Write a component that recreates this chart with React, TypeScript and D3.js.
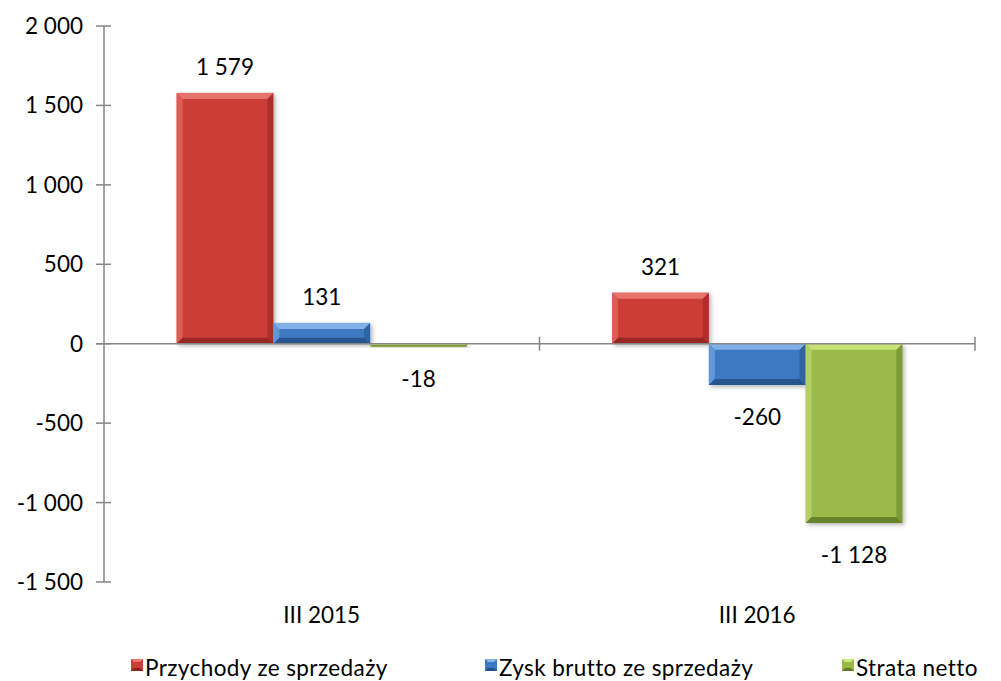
import React, { useEffect, useRef } from 'react';
import * as d3 from 'd3';

const categories = ['III 2015', 'III 2016'];
const seriesNames = ['Przychody ze sprzedaży', 'Zysk brutto ze sprzedaży', 'Strata netto'];
const przychody = [1579, 321];
const zysk = [131, -260];
const strata = [-18, -1128];
const yTicks = [-1500, -1000, -500, 0, 500, 1000, 1500, 2000];

const colors = ['#cc3d39', '#3c78c2', '#98bb48'];
const lights = ['#ea7a72', '#86b6ec', '#cfe67f'];
const darks = ['#8e2220', '#234f86', '#5f7a25'];

const fmt = (v: number) => {
  const s = Math.abs(v).toString().replace(/\B(?=(\d{3})+(?!\d))/g, '\u00a0');
  return (v < 0 ? '-' : '') + s;
};

const App = () => {
  const svgRef = useRef<SVGSVGElement>(null);

  useEffect(() => {
    const svg = d3.select(svgRef.current);
    svg.selectAll('*').remove();
    const font = 'Lato, Calibri, sans-serif';
    const fs = 22.5;

    const left = 104;
    const right = 975;
    const y = d3.scaleLinear().domain([-1500, 2000]).range([582, 26]);
    const x0 = d3.scaleBand().domain(categories).range([left, right]).paddingInner(0).paddingOuter(0);
    const x1 = d3
      .scaleBand()
      .domain(seriesNames)
      .range([0, x0.bandwidth()])
      .paddingInner(0)
      .paddingOuter(0.75);

    const defs = svg.append('defs');
    const f = defs.append('filter').attr('id', 'sh').attr('x', '-20%').attr('y', '-20%').attr('width', '140%').attr('height', '140%');
    f.append('feDropShadow').attr('dx', 2).attr('dy', 2).attr('stdDeviation', 2).attr('flood-color', '#000').attr('flood-opacity', 0.3);

    // y axis
    svg.append('line').attr('x1', left).attr('x2', left).attr('y1', y(2000)).attr('y2', y(-1500))
      .attr('stroke', '#868686').attr('stroke-width', 1.5);
    yTicks.forEach(t => {
      svg.append('line').attr('x1', left - 8).attr('x2', left + 7).attr('y1', y(t)).attr('y2', y(t))
        .attr('stroke', '#868686').attr('stroke-width', 1.5);
      svg.append('text').attr('x', 83).attr('y', y(t) + 8).attr('text-anchor', 'end')
        .attr('font-family', font).attr('font-size', fs).attr('fill', '#000').text(fmt(t));
    });

    const data = [przychody, zysk, strata];
    const bars = svg.append('g');
    data.forEach((vals, si) => {
      vals.forEach((v, ci) => {
        const bx = x0(categories[ci])! + x1(seriesNames[si])!;
        const bw = x1.bandwidth();
        const y0 = y(Math.max(0, v));
        const h = Math.abs(y(v) - y(0));
        const g = bars.append('g');
        g.append('rect').attr('x', bx).attr('y', y0).attr('width', bw).attr('height', h)
          .attr('fill', colors[si]).attr('filter', 'url(#sh)');
        const b = Math.min(6, h / 2);
        const x2 = bx + bw;
        const yb = y0 + h;
        g.append('polygon').attr('points', `${bx},${y0} ${x2},${y0} ${x2 - b},${y0 + b} ${bx + b},${y0 + b}`)
          .attr('fill', lights[si]).attr('opacity', 0.9);
        g.append('polygon').attr('points', `${bx},${y0} ${bx + b},${y0 + b} ${bx + b},${yb - b} ${bx},${yb}`)
          .attr('fill', lights[si]).attr('opacity', 0.5);
        g.append('polygon').attr('points', `${x2},${y0} ${x2},${yb} ${x2 - b},${yb - b} ${x2 - b},${y0 + b}`)
          .attr('fill', darks[si]).attr('opacity', 0.5);
        g.append('polygon').attr('points', `${bx},${yb} ${x2},${yb} ${x2 - b},${yb - b} ${bx + b},${yb - b}`)
          .attr('fill', darks[si]).attr('opacity', 0.85);
        const ly = v >= 0 ? y(v) - 18 : y(v) + 40;
        svg.append('text').attr('x', bx + bw / 2).attr('y', ly).attr('text-anchor', 'middle')
          .attr('font-family', font).attr('font-size', fs).attr('fill', '#000').text(fmt(v));
      });
    });

    // zero axis
    svg.append('line').attr('x1', left - 8).attr('x2', right).attr('y1', y(0)).attr('y2', y(0))
      .attr('stroke', '#868686').attr('stroke-width', 1.5);
    [x0(categories[1])!, right].forEach(t => {
      svg.append('line').attr('x1', t).attr('x2', t).attr('y1', y(0) - 7).attr('y2', y(0) + 7)
        .attr('stroke', '#868686').attr('stroke-width', 1.5);
    });

    categories.forEach(c => {
      svg.append('text').attr('x', x0(c)! + x0.bandwidth() / 2).attr('y', 623).attr('text-anchor', 'middle')
        .attr('font-family', font).attr('font-size', fs).attr('fill', '#000').text(c);
    });

    // legend
    const legendX = [131, 485, 842];
    seriesNames.forEach((n, i) => {
      const lg = svg.append('g').attr('transform', `translate(${legendX[i]},659)`);
      lg.append('rect').attr('width', 12).attr('height', 12).attr('fill', colors[i]);
      lg.append('polygon').attr('points', '0,0 12,0 9,3 3,3').attr('fill', lights[i]);
      lg.append('polygon').attr('points', '0,12 12,12 9,9 3,9').attr('fill', darks[i]);
      lg.append('text').attr('x', 14).attr('y', 17).attr('font-family', font).attr('font-size', fs)
        .attr('letter-spacing', 0.4).attr('fill', '#000').text(n);
    });
  }, []);

  return <svg ref={svgRef} width={1001} height={681} style={{ position: 'absolute', left: 0, top: 0 }} />;
};

export default App;
